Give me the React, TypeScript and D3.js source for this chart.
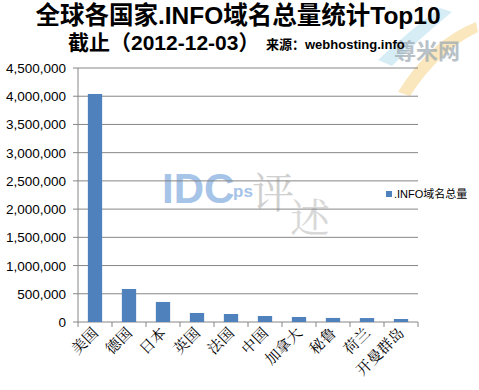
import React from "react";
import * as d3 from "d3";

const countries = ["美国", "德国", "日本", "英国", "法国", "中国", "加拿大", "秘鲁", "荷兰", "开曼群岛"];
const totals = [4040000, 585000, 355000, 160000, 142000, 106000, 89000, 72000, 70000, 53000];
const yTicks = [0, 500000, 1000000, 1500000, 2000000, 2500000, 3000000, 3500000, 4000000, 4500000];
const seriesName = ".INFO域名总量";

const W = 479;
const H = 390;
const margin = { top: 68, right: 61, bottom: 68, left: 78 };
const barColor = "#4F81BD";
const gridColor = "#868686";
const cjk = "'Liberation Sans', 'Noto Sans CJK SC', Arial, sans-serif";

export default function App() {
  const x = d3
    .scaleBand<string>()
    .domain(countries)
    .range([margin.left, W - margin.right])
    .paddingInner(0.58)
    .paddingOuter(0.29);
  const y = d3
    .scaleLinear()
    .domain([0, 4500000])
    .range([H - margin.bottom, margin.top]);
  const fmt = d3.format(",");
  const step = x.step();
  const x0 = margin.left;
  const x1 = W - margin.right;
  const yBase = y(0);

  return (
    <div style={{ position: "absolute", left: 0, top: 0, background: "#fff" }}>
      <svg width={W} height={H} style={{ display: "block" }}>
        <rect width={W} height={H} fill="#fff" />

        {/* watermark logo top right */}
        <path d="M378,60 Q410,30 440,8 L452,12 Q420,38 392,66 Z" fill="#cde9f3" opacity={0.8} />
        <path d="M398,92 Q430,40 476,22 L478,32 Q440,50 410,96 Z" fill="#f9e1ae" opacity={0.8} />
        <text x={394} y={59} fontFamily="'Noto Sans CJK SC'" fontSize={22} fontWeight="bold" fill="#9aa7b0" opacity={0.7}>
          尊米网
        </text>

        {/* title */}
        <text x={238} y={24} textAnchor="middle" fontFamily={cjk} fontSize={24.5} fontWeight="bold" fill="#000">
          全球各国家.INFO域名总量统计Top10
        </text>
        <text x={68} y={50} fontFamily={cjk} fontSize={21} fontWeight="bold" fill="#000">
          截止（2012-12-03）
        </text>
        <text x={266} y={49} fontFamily={cjk} fontSize={13} fontWeight="bold" fill="#000">
          来源：webhosting.info
        </text>

        {/* center watermark */}
        <text x={162} y={203} fontFamily="'Liberation Sans', Arial" fontSize={42} fontWeight="bold" fill="#a6c3e8">IDC</text>
        <text x={233} y={197} fontFamily="'Liberation Sans', Arial" fontSize={17} fontWeight="bold" fill="#a6c3e8">ps</text>
        <text x={252} y={208} fontFamily="'Noto Serif CJK SC', 'Noto Sans CJK SC'" fontSize={42} fill="#cfcfcf">评</text>
        <text x={290} y={232} fontFamily="'Noto Serif CJK SC', 'Noto Sans CJK SC'" fontSize={40} fill="#d8d8d8">述</text>

        {/* grid + y axis */}
        {yTicks.map((t) => (
          <g key={t}>
            <line x1={x0 - 5} x2={x1} y1={y(t)} y2={y(t)} stroke={gridColor} strokeWidth={1} />
            <text x={66} y={y(t) + 5} textAnchor="end" fontFamily="'Liberation Sans', Arial" fontSize={13.5} fill="#000">
              {fmt(t)}
            </text>
          </g>
        ))}
        <line x1={x0} x2={x0} y1={margin.top} y2={yBase} stroke={gridColor} />

        {/* x ticks */}
        {d3.range(countries.length + 1).map((i) => (
          <line key={i} x1={x0 + i * step} x2={x0 + i * step} y1={yBase} y2={yBase + 5} stroke={gridColor} />
        ))}

        {/* bars */}
        {countries.map((c, i) => (
          <rect key={c} x={x(c)} y={y(totals[i])} width={x.bandwidth()} height={yBase - y(totals[i])} fill={barColor} />
        ))}

        {/* x labels */}
        {countries.map((c) => {
          const cx = (x(c) ?? 0) + x.bandwidth() / 2 + 4;
          return (
            <text
              key={c}
              transform={`translate(${cx},${yBase + 12}) rotate(-45)`}
              textAnchor="end"
              fontFamily="'Noto Serif CJK SC', 'Noto Sans CJK SC', serif"
              fontSize={15}
              fill="#000"
            >
              {c}
            </text>
          );
        })}

        {/* legend */}
        <rect x={386} y={191} width={6} height={6} fill={barColor} />
        <text x={394} y={198} fontFamily={cjk} fontSize={11} fill="#000">
          {seriesName}
        </text>
      </svg>
    </div>
  );
}
